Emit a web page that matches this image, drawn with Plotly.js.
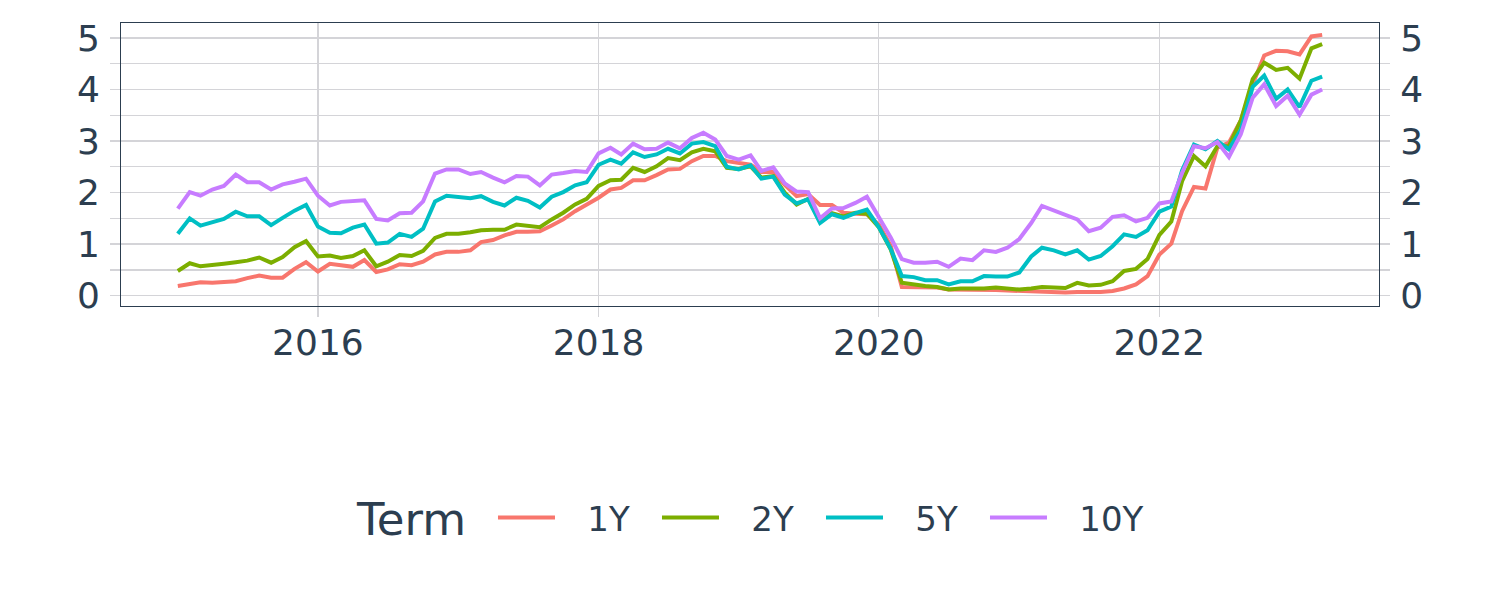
<!DOCTYPE html>
<html>
<head>
<meta charset="utf-8">
<script src="https://cdn.plot.ly/plotly-3.0.1.min.js"></script>
<style>html,body{margin:0;padding:0;background:#fff;}#chart{width:1500px;height:600px;}</style>
</head>
<body>
<div id="chart"></div>
<script>
// Month-start dates, Jan 2015 .. Mar 2023
const startYear = 2015, nMonths = 99;
const months = [];
for (let i = 0; i < nMonths; i++) {
  const y = startYear + Math.floor(i / 12), m = (i % 12) + 1;
  months.push(y + '-' + (m < 10 ? '0' + m : m) + '-01');
}

const terms = ['1Y', '2Y', '5Y', '10Y'];
const legendTitle = 'Term';

const y1 = [
  0.19, 0.23, 0.26, 0.25, 0.26, 0.28, 0.34, 0.39, 0.35, 0.35, 0.52, 0.65,
  0.47, 0.62, 0.59, 0.56, 0.69, 0.46, 0.51, 0.61, 0.59, 0.66, 0.80, 0.85,
  0.85, 0.88, 1.04, 1.08, 1.17, 1.24, 1.24, 1.25, 1.36, 1.48, 1.64, 1.76,
  1.90, 2.06, 2.09, 2.24, 2.24, 2.34, 2.45, 2.46, 2.61, 2.71, 2.71, 2.61,
  2.57, 2.54, 2.40, 2.40, 2.15, 1.93, 1.97, 1.76, 1.76, 1.61, 1.59, 1.58,
  1.38, 0.97, 0.17, 0.17, 0.16, 0.16, 0.12, 0.12, 0.12, 0.12, 0.11, 0.10,
  0.09, 0.07, 0.07, 0.06, 0.06, 0.07, 0.07, 0.07, 0.09, 0.14, 0.22, 0.38,
  0.80, 1.01, 1.64, 2.11, 2.08, 2.87, 2.97, 3.40, 4.10, 4.66, 4.75, 4.74,
  4.68, 5.03, 5.06
];
const y2 = [
  0.48, 0.63, 0.57, 0.59, 0.62, 0.65, 0.68, 0.74, 0.64, 0.75, 0.94, 1.06,
  0.76, 0.78, 0.73, 0.77, 0.88, 0.57, 0.66, 0.79, 0.77, 0.87, 1.12, 1.20,
  1.20, 1.23, 1.27, 1.28, 1.28, 1.38, 1.35, 1.33, 1.48, 1.61, 1.77, 1.88,
  2.13, 2.24, 2.25, 2.48, 2.40, 2.51, 2.67, 2.63, 2.78, 2.85, 2.80, 2.48,
  2.46, 2.51, 2.29, 2.32, 2.00, 1.77, 1.88, 1.45, 1.60, 1.54, 1.61, 1.59,
  1.33, 0.90, 0.25, 0.21, 0.19, 0.17, 0.12, 0.14, 0.14, 0.14, 0.16, 0.14,
  0.12, 0.14, 0.17, 0.16, 0.15, 0.25, 0.20, 0.21, 0.28, 0.48, 0.52, 0.71,
  1.18, 1.44, 2.22, 2.71, 2.51, 2.90, 2.90, 3.40, 4.20, 4.52, 4.38, 4.42,
  4.21, 4.80, 4.88
];
const y5 = [
  1.20, 1.50, 1.36, 1.43, 1.49, 1.63, 1.54, 1.54, 1.37, 1.51, 1.65, 1.76,
  1.34, 1.22, 1.21, 1.32, 1.38, 1.01, 1.03, 1.20, 1.14, 1.30, 1.83, 1.94,
  1.91, 1.89, 1.93, 1.82, 1.75, 1.90, 1.84, 1.71, 1.92, 2.01, 2.14, 2.20,
  2.54, 2.64, 2.56, 2.78, 2.69, 2.74, 2.85, 2.76, 2.95, 2.98, 2.90, 2.50,
  2.45, 2.53, 2.27, 2.31, 1.96, 1.79, 1.87, 1.41, 1.58, 1.51, 1.60, 1.67,
  1.33, 0.91, 0.38, 0.36, 0.30, 0.30, 0.22, 0.28, 0.28, 0.38, 0.37, 0.37,
  0.45, 0.76, 0.93, 0.88, 0.80, 0.88, 0.70, 0.77, 0.96, 1.19, 1.14, 1.27,
  1.63, 1.73, 2.43, 2.93, 2.84, 3.00, 2.84, 3.22, 4.05, 4.27, 3.82, 4.00,
  3.66, 4.17, 4.25
];
const y10 = [
  1.69, 2.01, 1.94, 2.06, 2.13, 2.35, 2.20, 2.20, 2.06, 2.16, 2.21, 2.27,
  1.94, 1.75, 1.82, 1.83, 1.85, 1.49, 1.46, 1.60, 1.61, 1.83, 2.37, 2.45,
  2.45, 2.36, 2.40, 2.29, 2.20, 2.32, 2.31, 2.14, 2.35, 2.38, 2.42, 2.40,
  2.76, 2.87, 2.74, 2.95, 2.84, 2.85, 2.97, 2.86, 3.06, 3.16, 3.03, 2.71,
  2.64, 2.72, 2.42, 2.49, 2.18, 2.02, 2.01, 1.50, 1.69, 1.70, 1.80, 1.92,
  1.52, 1.13, 0.71, 0.64, 0.64, 0.66, 0.56, 0.72, 0.69, 0.88, 0.85, 0.93,
  1.10, 1.41, 1.74, 1.65, 1.58, 1.48, 1.25, 1.32, 1.53, 1.56, 1.44, 1.51,
  1.79, 1.83, 2.38, 2.90, 2.86, 2.98, 2.69, 3.13, 3.84, 4.10, 3.68, 3.88,
  3.51, 3.90, 4.00
];
const seriesValues = [y1, y2, y5, y10];
const colors = ['#F8766D', '#7CAE00', '#00BFC4', '#C77CFF'];

const textColor = '#2c3e50';
const gridColor = '#d4d4d8';
const FONT = 'DejaVu Sans, sans-serif';
const NB = '\u00a0\u00a0\u2006';

const traces = terms.map((t, i) => ({
  type: 'scatter', mode: 'lines', name: NB + t,
  x: months, y: seriesValues[i],
  line: {color: colors[i], width: 4},
  hoverinfo: 'skip'
}));
// invisible trace to anchor right axis
traces.push({type: 'scatter', mode: 'lines', x: [months[0]], y: [0], yaxis: 'y2', showlegend: false, line: {width: 0}, hoverinfo: 'skip'});

const yRange = [-0.2, 5.29];
const yCommon = {
  range: yRange, tickvals: [0, 1, 2, 3, 4, 5], ticktext: ['0', '1', '2', '3', '4', '5'],
  showgrid: true, gridcolor: gridColor, gridwidth: 1.3,
  ticks: 'outside', ticklen: 10, tickcolor: gridColor, tickwidth: 1.3,
  ticklabelstandoff: 3,
  minor: {dtick: 0.5, tick0: 0, showgrid: true, gridcolor: gridColor, gridwidth: 1.3, ticks: 'outside', ticklen: 10, tickcolor: gridColor, tickwidth: 1.3},
  tickfont: {family: FONT, size: 36, color: textColor},
  zeroline: false, fixedrange: true
};

const layout = {
  width: 1500, height: 600,
  margin: {l: 121, r: 121, t: 23, b: 294},
  paper_bgcolor: '#ffffff', plot_bgcolor: '#ffffff',
  showlegend: true,
  font: {family: FONT, color: textColor},
  xaxis: {
    type: 'date', range: ['2014-08-06', '2023-07-27'],
    tick0: '2016-01-01', dtick: 'M24', tickformat: '%Y',
    showgrid: true, gridcolor: gridColor, gridwidth: 1.3,
    ticks: 'outside', ticklen: 10, tickcolor: gridColor, tickwidth: 1.3,
    ticklabelstandoff: -5,
    tickfont: {family: FONT, size: 36, color: textColor},
    showline: true, linecolor: textColor, linewidth: 1, mirror: true,
    zeroline: false
  },
  yaxis: Object.assign({}, yCommon, {side: 'left', showline: true, linecolor: textColor, linewidth: 1, mirror: true}),
  yaxis2: Object.assign({}, yCommon, {side: 'right', overlaying: 'y', showgrid: false, minor: {dtick: 0.5, tick0: 0, showgrid: false, ticks: 'outside', ticklen: 10, tickcolor: gridColor, tickwidth: 1.3}}),
  legend: {
    orientation: 'h', x: 0.2957, xanchor: 'left', y: -0.749, yanchor: 'middle',
    font: {family: FONT, size: 34, color: textColor},
    itemwidth: 57, entrywidth: 92
  },
  annotations: [{
    text: legendTitle, xref: 'paper', yref: 'paper', x: 0.2305, y: -0.7527,
    xanchor: 'center', yanchor: 'middle', showarrow: false,
    font: {family: FONT, size: 45, color: textColor}
  }]
};

Plotly.newPlot('chart', traces, layout, {displayModeBar: false, staticPlot: true});
</script>
</body>
</html>
